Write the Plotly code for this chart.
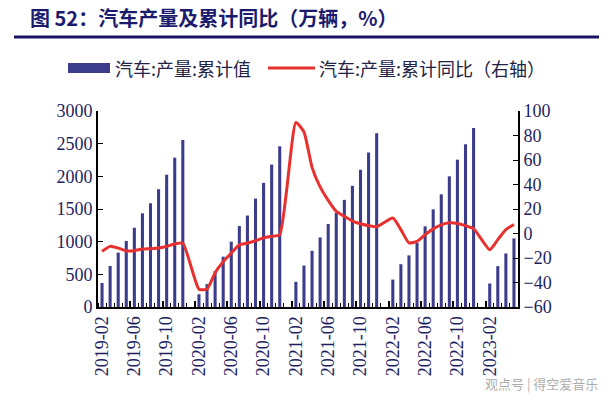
import plotly.graph_objects as go

months = ["2019-02","2019-03","2019-04","2019-05","2019-06","2019-07","2019-08","2019-09","2019-10","2019-11","2019-12",
          "2020-01","2020-02","2020-03","2020-04","2020-05","2020-06","2020-07","2020-08","2020-09","2020-10","2020-11","2020-12",
          "2021-01","2021-02","2021-03","2021-04","2021-05","2021-06","2021-07","2021-08","2021-09","2021-10","2021-11","2021-12",
          "2022-01","2022-02","2022-03","2022-04","2022-05","2022-06","2022-07","2022-08","2022-09","2022-10","2022-11","2022-12",
          "2023-01","2023-02","2023-03","2023-04","2023-05"]

production_cum = [368, 628, 832, 1010, 1214, 1434, 1587, 1802, 2025, 2286, 2557,
                  None, 195, 350, 550, 770, 1000, 1240, 1400, 1660, 1900, 2180, 2460,
                  None, 385, 635, 860, 1065, 1270, 1440, 1640, 1855, 2100, 2365, 2660,
                  None, 420, 655, 790, 980, 1235, 1495, 1725, 2000, 2255, 2490, 2740,
                  None, 360, 625, 820, 1050]

yoy_cum = [-14.6, -10.5, -11.9, -14.2, -14.0, -12.7, -12.4, -11.9, -10.5, -8.6, -7.8,
           None, -45.5, -45.5, -32.0, -23.0, -16.0, -9.3, -7.8, -5.9, -3.6, -2.3, -1.0,
           None, 90.6, 82.9, 54.0, 38.0, 27.0, 18.0, 14.0, 10.2, 8.0, 6.4, 5.5,
           None, 12.6, 3.2, -7.7, -6.4, -0.9, 3.8, 7.1, 8.7, 8.2, 6.4, 4.0,
           None, -13.2, -5.0, 3.2, 7.3]

tick_labels = months[::4]

title_text = "图 52：汽车产量及累计同比（万辆，%）"
bar_name = "汽车:产量:累计值"
line_name = "汽车:产量:累计同比（右轴）"
watermark = "观点号 | 得空爱音乐"

idx = list(range(len(months)))
NAVY = "#1E1E62"
BAR = "#3C3C8C"
RED = "#E8312F"

fig = go.Figure()
fig.add_trace(go.Bar(x=idx, y=production_cum, name=bar_name, marker_color=BAR,
                     marker_line_width=0, yaxis="y", showlegend=False))
fig.add_trace(go.Scatter(x=idx, y=yoy_cum, name=line_name, mode="lines",
                         line=dict(color=RED, width=3, shape="spline", smoothing=0.5),
                         connectgaps=True, yaxis="y2", showlegend=False))
# major boundary marks on the category axis (invisible carrier trace)
fig.add_trace(go.Scatter(x=[idx[0], idx[-1]], y=[0, 0], xaxis="x2", yaxis="y",
                         mode="markers", marker=dict(opacity=0), hoverinfo="skip",
                         showlegend=False))

L, R, T, B = 98, 95, 111, 97
W, H = 613, 404
pw, ph = W - L - R, H - T - B

def px(xp):
    return (xp - L) / pw

def py(yp):
    return (H - B - yp) / ph

tickfont = dict(family="Liberation Serif", size=18, color=NAVY)
xr = [-0.5, len(months) - 0.5]

fig.update_layout(
    width=W, height=H,
    margin=dict(l=L, r=R, t=T, b=B),
    paper_bgcolor="white", plot_bgcolor="white",
    bargap=0.62,
    xaxis=dict(range=xr, tickmode="array",
               tickvals=idx[::4], ticktext=tick_labels, tickangle=-90,
               ticks="", showline=True, linecolor="black", linewidth=2,
               showgrid=False, zeroline=False, tickfont=tickfont,
               minor=dict(tickmode="linear", tick0=-0.5, dtick=1, ticks="inside",
                          ticklen=4, tickcolor="black", tickwidth=1, showgrid=False)),
    xaxis2=dict(range=xr, overlaying="x", side="bottom", anchor="y", tickmode="array",
                tickvals=[v - 0.5 for v in idx[::4]][1:], ticks="inside", ticklen=6,
                tickwidth=2, tickcolor="black", showticklabels=False, showline=False,
                showgrid=False, zeroline=False),
    yaxis=dict(range=[0, 3000], dtick=500, ticks="inside", ticklen=5, tickcolor="black",
               showline=True, linecolor="black", linewidth=2, showgrid=False,
               zeroline=False, tickfont=tickfont),
    yaxis2=dict(range=[-60, 100], dtick=20, overlaying="y", side="right",
                ticks="inside", ticklen=5, tickcolor="black",
                showline=True, linecolor="black", linewidth=2, showgrid=False,
                zeroline=False, tickfont=tickfont),
    font=dict(family="Noto Sans CJK SC", color=NAVY),
)

# title and underline
fig.add_annotation(text="<b>" + title_text + "</b>", xref="paper", yref="paper",
                   x=px(28), y=py(17), xanchor="left", yanchor="middle", showarrow=False,
                   font=dict(family="Noto Sans CJK SC", size=20, color="#1B1B6E"))
fig.add_shape(type="line", xref="paper", yref="paper", x0=px(14), x1=px(599),
              y0=py(37), y1=py(37), line=dict(color="#1B1464", width=3))

# custom legend
fig.add_shape(type="rect", xref="paper", yref="paper", x0=px(68), x1=px(110),
              y0=py(73), y1=py(63), fillcolor=BAR, line=dict(width=0))
fig.add_annotation(text=bar_name, xref="paper", yref="paper", x=px(113), y=py(68),
                   xanchor="left", yanchor="middle", showarrow=False,
                   font=dict(family="Noto Sans CJK SC", size=18, color="#222244"))
fig.add_shape(type="line", xref="paper", yref="paper", x0=px(268), x1=px(315),
              y0=py(68), y1=py(68), line=dict(color=RED, width=3))
fig.add_annotation(text=line_name, xref="paper", yref="paper", x=px(317), y=py(68),
                   xanchor="left", yanchor="middle", showarrow=False,
                   font=dict(family="Noto Sans CJK SC", size=18, color="#222244"))

# watermark
fig.add_annotation(text=watermark, xref="paper", yref="paper", x=px(600), y=py(383),
                   xanchor="right", yanchor="middle", showarrow=False,
                   font=dict(family="Noto Sans CJK SC", size=13, color="rgba(150,150,150,0.8)"))

fig.write_html("out.html")
